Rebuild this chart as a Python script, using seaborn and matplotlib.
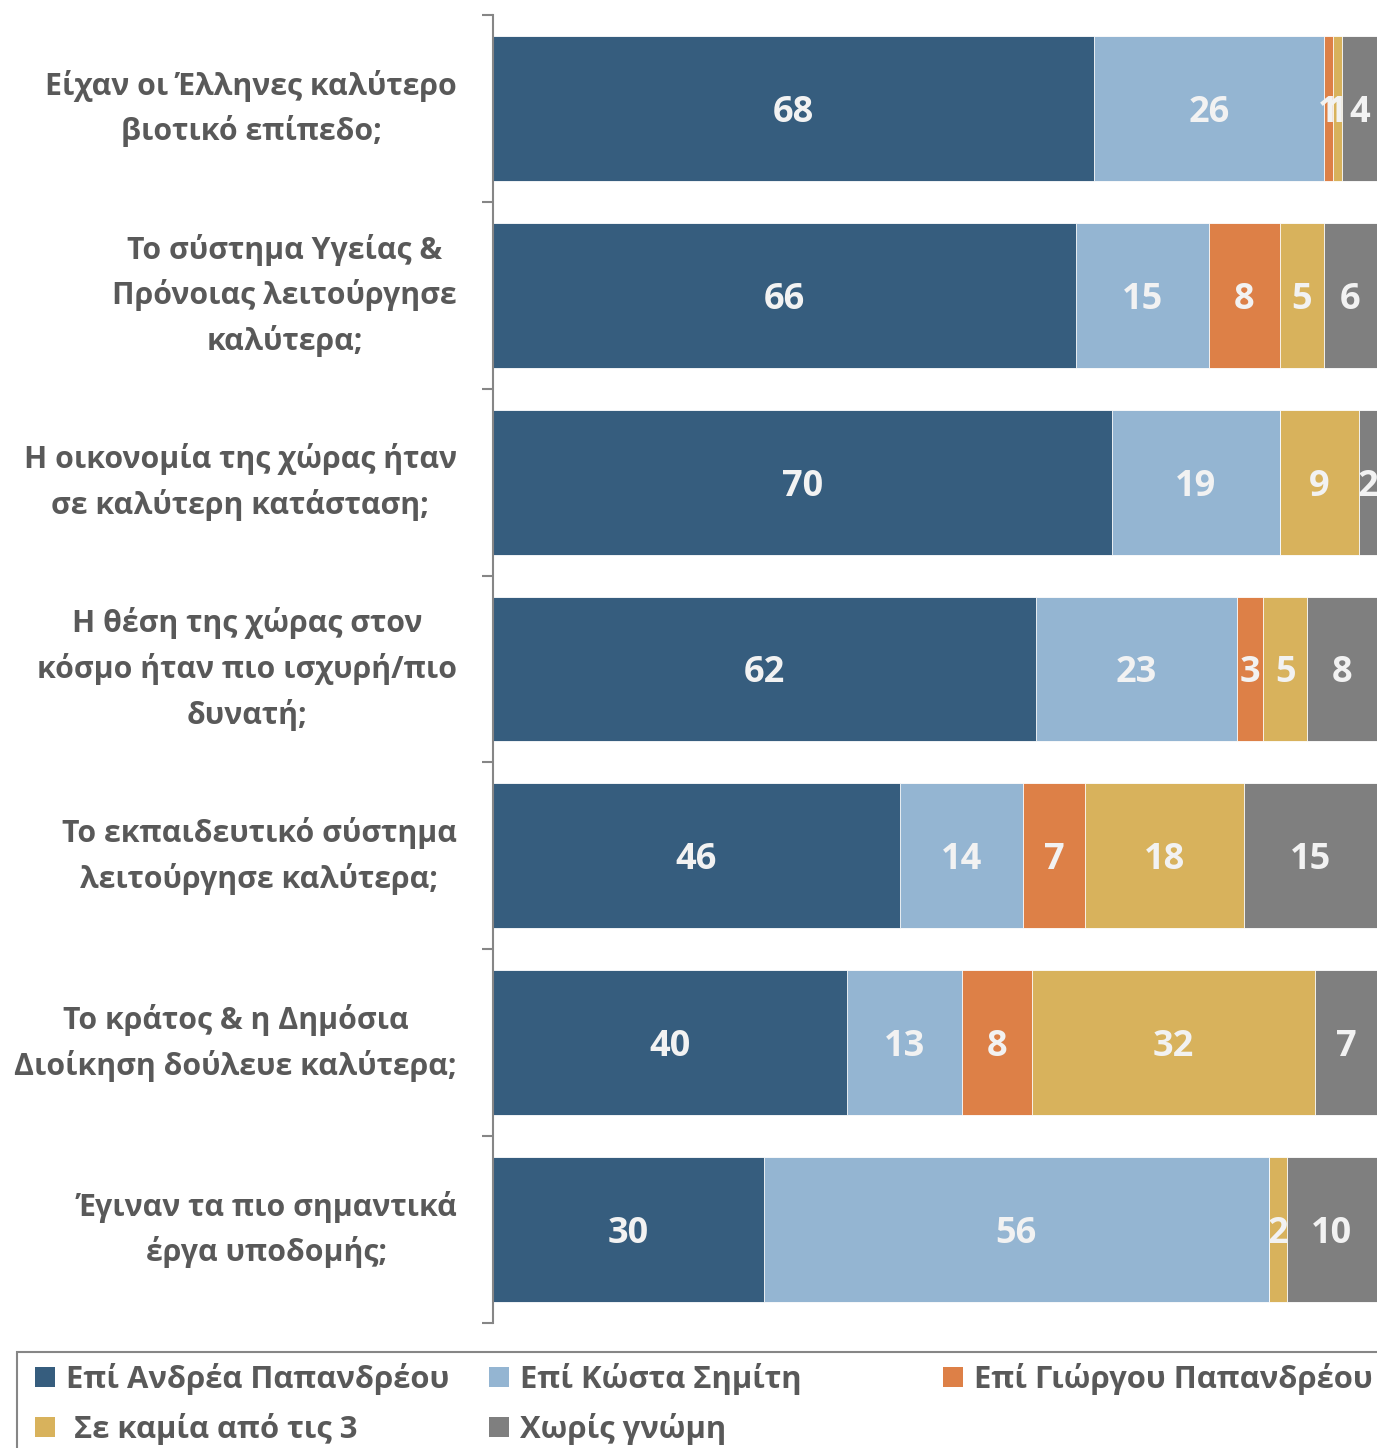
import matplotlib
matplotlib.use("Agg")
import matplotlib.pyplot as plt
from matplotlib.patches import Patch, Rectangle
import numpy as np
import pandas as pd
import seaborn as sns

# Survey questions (y-axis categories)
questions = [
    "Είχαν οι Έλληνες καλύτερο\nβιοτικό επίπεδο;",
    "Το σύστημα Υγείας &\nΠρόνοιας λειτούργησε\nκαλύτερα;",
    "Η οικονομία της χώρας ήταν\nσε καλύτερη κατάσταση;",
    "Η θέση της χώρας στον\nκόσμο ήταν πιο ισχυρή/πιο\nδυνατή;",
    "Το εκπαιδευτικό σύστημα\nλειτούργησε καλύτερα;",
    "Το κράτος & η Δημόσια\nΔιοίκηση δούλευε καλύτερα;",
    "Έγιναν τα πιο σημαντικά\nέργα υποδομής;",
]

series_names = [
    "Επί Ανδρέα Παπανδρέου",
    "Επί Κώστα Σημίτη",
    "Επί Γιώργου Παπανδρέου",
    " Σε καμία από τις 3",
    "Χωρίς γνώμη",
]

# Answers (%) per question
andreas = [68, 66, 70, 62, 46, 40, 30]
simitis = [26, 15, 19, 23, 14, 13, 56]
giorgos = [1, 8, 0, 3, 7, 8, 0]
none_of_three = [1, 5, 9, 5, 18, 32, 2]
no_opinion = [4, 6, 2, 8, 15, 7, 10]

colors = ["#365D7E", "#94B5D2", "#DD8047", "#D8B25C", "#7F7F7F"]

sns.set_theme(style="white")
plt.rcParams["font.family"] = ["Open Sans", "DejaVu Sans"]

df = pd.DataFrame(
    dict(zip(series_names, [andreas, simitis, giorgos, none_of_three, no_opinion])),
    index=questions,
)
# 100% stacked: each row scaled to its own total
shares = df.div(df.sum(axis=1), axis=0) * 100
cum = shares.cumsum(axis=1)

W, H, DPI = 1377, 1448, 100
fig = plt.figure(figsize=(W / DPI, H / DPI), dpi=DPI)
ax = fig.add_axes([493 / W, 1 - 1323 / H, 1 - 493 / W, (1323 - 15) / H])

# draw cumulative bars from the outermost segment inwards
for name, col in reversed(list(zip(series_names, colors))):
    sns.barplot(
        x=cum[name].values, y=questions, color=col, saturation=1,
        width=0.775, edgecolor="white", linewidth=0.6, orient="h", ax=ax,
    )

# value labels at the centre of every segment
for i, q in enumerate(questions):
    for name in series_names:
        v = df.loc[q, name]
        if v <= 0:
            continue
        mid = cum.loc[q, name] - shares.loc[q, name] / 2
        ax.text(mid, i, f"{v}", ha="center", va="center_baseline",
                color="#F2F2F2", fontsize=26, fontweight="bold")

ax.set_xlim(0, 100)
ax.set_ylim(len(questions) - 0.5, -0.5)
ax.set_xlabel("")
ax.set_ylabel("")
ax.set_xticks([])
for s in ["top", "right", "bottom"]:
    ax.spines[s].set_visible(False)
ax.spines["left"].set_color("#868686")
ax.spines["left"].set_linewidth(1.5)

ax.set_yticks(range(len(questions)))
ax.set_yticklabels(questions)
ax.set_yticks(np.arange(-0.5, len(questions), 1), minor=True)
ax.tick_params(axis="y", which="major", length=0, pad=26, labelsize=21.8,
               labelcolor="#595959")
ax.tick_params(axis="y", which="minor", left=True, length=8, width=1.5,
               color="#868686", direction="out")
for t in ax.get_yticklabels():
    t.set_fontweight("bold")
    t.set_multialignment("center")
    t.set_linespacing(1.55)
    t.set_verticalalignment("center")

# legend frame
fig.patches.append(Rectangle((17 / W, -0.01), 1.0, 0.01 + 1 - 1352 / H,
                             transform=fig.transFigure, fill=False,
                             edgecolor="#868686", linewidth=1.5))

handles = [Patch(facecolor=c, edgecolor="none") for c in colors]
columns = [([0, 3], 35), ([1, 4], 489), ([2], 943)]
for idx, x0 in columns:
    fig.legend([handles[k] for k in idx], [series_names[k] for k in idx],
               loc="upper left", bbox_to_anchor=(x0 / W, 1 - 1363 / H),
               frameon=False, borderpad=0, borderaxespad=0,
               handlelength=0.65, handleheight=0.65, handletextpad=0.34,
               labelspacing=0.58, prop=dict(size=22.3, weight="bold"),
               labelcolor="#595959")

fig.savefig("out.png", dpi=DPI)
